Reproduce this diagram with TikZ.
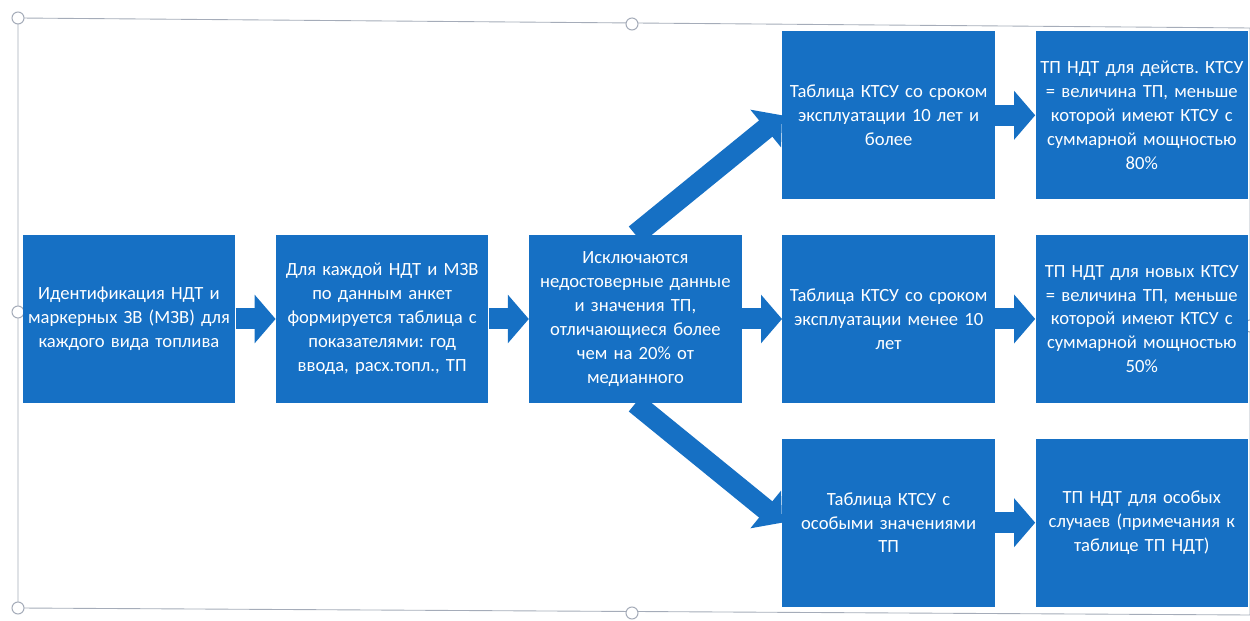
\documentclass[tikz,border=0pt]{standalone}
\usepackage{fontspec}
\setmainfont{Carlito}
\frenchspacing
\definecolor{boxblue}{RGB}{22,112,196}
\definecolor{framegray}{RGB}{165,172,185}
\usetikzlibrary{arrows.meta,positioning}

\begin{document}
\begin{tikzpicture}[node distance=0.7cm and 0.8cm,
  blk/.style={fill=boxblue,text=white,minimum width=4.25cm,minimum height=3.36cm,
              text width=4.22cm,align=center,inner sep=0pt,
              font=\fontsize{10.6}{13.6}\selectfont},
  bigarrow/.style={draw=boxblue,line width=0.42cm,
              -{Triangle[length=0.42cm,width=0.95cm]}},
  handle/.style={draw=framegray,fill=white,line width=0.6pt}]
  \useasboundingbox (0,0) rectangle (25,12.42);
  % selection frame of the scanned figure
  \draw[framegray,line width=0.5pt] (0.36,12.06) -- (25,11.86) -- (25,0.12) -- (0.36,0.26) -- cycle;
  \foreach \p in {(0.36,12.06),(12.64,11.94),(0.36,6.18),(25,5.9),(0.36,0.26),(12.64,0.16)}
    \draw[handle] \p circle (0.12);
  % main row
  \node[blk] (ident) at (2.58,6.04) {Идентификация НДТ и\\маркерных ЗВ (МЗВ) для\\каждого вида топлива};
  \node[blk, right=of ident] (tabl) {Для каждой НДТ и МЗВ\\по данным анкет\\формируется таблица с\\показателями: год\\ввода, расх.топл., ТП};
  \node[blk, right=of tabl] (excl) {Исключаются\\недостоверные данные\\и значения ТП,\\отличающиеся более\\чем на 20\% от\\медианного};
  \node[blk, right=of excl] (young) {Таблица КТСУ со сроком\\эксплуатации менее 10\\лет};
  \node[blk, above=of young] (old) {Таблица КТСУ со сроком\\эксплуатации 10 лет и\\более};
  \node[blk, below=of young] (spec) {Таблица КТСУ с\\особыми значениями\\ТП};
  \node[blk, right=of old] (tpold) {ТП НДТ для действ. КТСУ\\= величина ТП, меньше\\которой имеют КТСУ с\\суммарной мощностью\\80\%};
  \node[blk, right=of young] (tpnew) {ТП НДТ для новых КТСУ\\= величина ТП, меньше\\которой имеют КТСУ с\\суммарной мощностью\\50\%};
  \node[blk, right=of spec] (tpspec) {ТП НДТ для особых\\случаев (примечания к\\таблице ТП НДТ)};
  % arrows
  \draw[bigarrow] (ident) -- (tabl);
  \draw[bigarrow] (tabl) -- (excl);
  \draw[bigarrow] (excl) -- (young);
  \draw[bigarrow] (excl.north) -- (old.west);
  \draw[bigarrow] (excl.south) -- (spec.west);
  \draw[bigarrow] (old) -- (tpold);
  \draw[bigarrow] (young) -- (tpnew);
  \draw[bigarrow] (spec) -- (tpspec);
\end{tikzpicture}
\end{document}
